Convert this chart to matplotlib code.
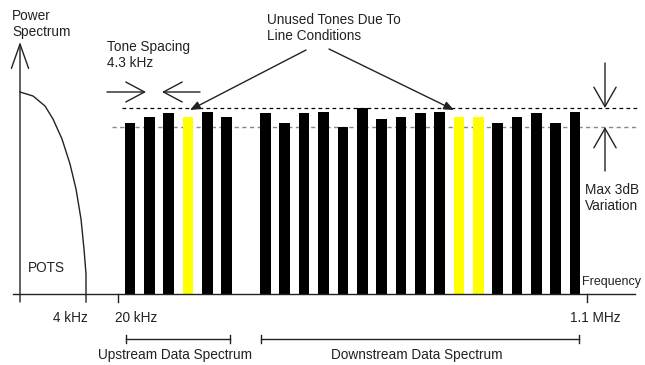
"""
ADSL DMT spectrum sketch: POTS band, upstream/downstream tones
"""
import matplotlib.pyplot as plt
import numpy as np

# tone number (4.3 kHz apart), tone 6 is the gap between the two bands
tones = [0, 1, 2, 3, 4, 5,
         7, 8, 9, 10, 11, 12, 13, 14, 15, 16, 17, 18, 19, 20, 21, 22, 23]
levels = [171, 177, 181, 177, 182, 177,
          181, 171, 181, 182, 167, 186, 175, 177, 181, 182, 177, 177, 171, 177, 181, 171, 182]
unused = [3, 17, 18]  # tones dropped due to line conditions

# POTS roll-off curve (pixel x, height above axis)
pots_x = [20, 33, 45, 53, 62, 70, 76, 81, 84, 86, 86]
pots_y = [202, 198, 188, 175, 155, 130, 105, 75, 45, 20, -8]

max_level = 186.5
min_level = 167.5

W, H = 645, 365
BASE = 294           # pixel row of the frequency axis
T0, DT = 130, 19.35  # pixel x of tone 0, pixels per tone
INK = '#222222'
FONT = dict(family='Liberation Sans', size=9.8, color=INK)


def py(p):
    # pixel row -> height above axis
    return BASE - p


def main():
    fig = plt.figure(figsize=(W / 100, H / 100), dpi=100)

    # bars, x in tone units
    ax = fig.add_axes([0, 0, 1, 1])
    ax.set_xlim(-T0 / DT, (W - T0) / DT)
    ax.set_ylim(BASE - H, BASE)
    ax.axis('off')
    colors = ['#ffff00' if t in unused else 'black' for t in tones]
    ax.bar(tones, levels, width=0.55, color=colors, zorder=3)
    ax.axhline(min_level, xmin=112 / W, xmax=638 / W, color='#888888', lw=1.0,
               dashes=(3, 2.5), zorder=1)

    # overlay in pixel units for the drawing furniture
    ov = fig.add_axes([0, 0, 1, 1], zorder=5)
    ov.set_xlim(0, W)
    ov.set_ylim(BASE - H, BASE)
    ov.axis('off')
    ov.patch.set_alpha(0)

    ov.axhline(max_level, xmin=122 / W, xmax=638 / W, color='black', lw=0.9, dashes=(3, 2.6))

    # axes
    ov.plot([13, 635], [0, 0], color=INK, lw=1.0)
    ov.annotate('', xy=(20, py(42)), xytext=(20, py(302)),
                arrowprops=dict(arrowstyle='->,head_length=1.75,head_width=0.62',
                                color=INK, lw=1.0, shrinkA=0, shrinkB=0))
    for x in [118, 587]:
        ov.plot([x, x], [0, py(302)], color=INK, lw=1.0)

    # POTS curve
    ov.plot(pots_x, pots_y, color=INK, lw=1.0)
    ov.text(28, py(268), 'POTS', ha='left', va='center', **FONT)

    # texts
    ov.text(12, py(24), 'Power\nSpectrum', ha='left', va='center', linespacing=1.25, **FONT)
    ov.text(107, py(55), 'Tone Spacing\n4.3 kHz', ha='left', va='center', linespacing=1.1, **FONT)
    ov.text(267, py(28), 'Unused Tones Due To\nLine Conditions', ha='left', va='center',
            linespacing=1.2, **FONT)
    ov.text(585, py(198), 'Max 3dB\nVariation', ha='left', va='center', linespacing=1.2, **FONT)
    ov.text(582, py(282), 'Frequency', ha='left', va='center',
            **{**FONT, 'size': 9.0})
    ov.text(70, py(318), '4 kHz', ha='center', va='center', **FONT)
    ov.text(136, py(318), '20 kHz', ha='center', va='center', **FONT)
    ov.text(595, py(318), '1.1 MHz', ha='center', va='center', **FONT)

    # tone spacing arrows
    open_head = dict(arrowstyle='->,head_length=1.35,head_width=0.72', color=INK, lw=1.0,
                     shrinkA=0, shrinkB=0)
    ov.annotate('', xy=(146, py(92)), xytext=(107, py(92)), arrowprops=open_head)
    ov.annotate('', xy=(162, py(92)), xytext=(200, py(92)), arrowprops=open_head)

    # variation arrows on the right
    var_head = dict(arrowstyle='->,head_length=1.4,head_width=0.8', color=INK, lw=1.0,
                    shrinkA=0, shrinkB=0)
    ov.annotate('', xy=(605, py(108)), xytext=(605, py(63)), arrowprops=var_head)
    ov.annotate('', xy=(605, py(127)), xytext=(605, py(171)), arrowprops=var_head)

    # pointers to unused tones
    solid_head = dict(arrowstyle='-|>,head_length=0.6,head_width=0.25', color=INK, lw=1.0,
                      shrinkA=0, shrinkB=0)
    ov.annotate('', xy=(190, py(110)), xytext=(306, py(50)), arrowprops=solid_head)
    ov.annotate('', xy=(454, py(110)), xytext=(329, py(49)), arrowprops=solid_head)

    # band brackets
    for x0, x1, label in [(126, 230, 'Upstream Data Spectrum'),
                          (261, 579, 'Downstream Data Spectrum')]:
        ov.plot([x0, x1], [py(339), py(339)], color=INK, lw=1.0)
        for x in (x0, x1):
            ov.plot([x, x], [py(335), py(343)], color=INK, lw=1.0)
        ov.text((x0 + x1) / 2 - 3, py(355), label, ha='center', va='center', **FONT)

    plt.savefig('out.png', dpi=100)


if __name__ == "__main__":
    main()
